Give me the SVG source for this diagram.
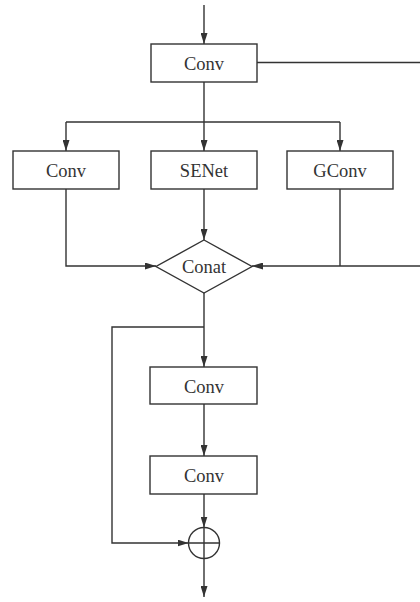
<svg xmlns="http://www.w3.org/2000/svg" width="420" height="602" viewBox="0 0 420 602">
<defs>
<marker id="ah" viewBox="0 0 11 7" refX="11" refY="3.5" markerWidth="11" markerHeight="7" markerUnits="userSpaceOnUse" orient="auto">
<path d="M0,0 L11,3.5 L0,7 Z" fill="#333"/>
</marker>
<style>
.box{fill:#fff;stroke:#333;stroke-width:1.4}
.ln{fill:none;stroke:#333;stroke-width:1.4}
.arr{fill:none;stroke:#333;stroke-width:1.4;marker-end:url(#ah)}
.t{font-family:"Liberation Serif","Times New Roman",serif;font-size:18.5px;fill:#333;text-anchor:middle}
</style>
</defs>
<rect width="420" height="602" fill="#fff"/>
<g id="connectors">
<path class="arr" d="M204,5 V44"/>
<path class="ln" d="M257,62.5 H420"/>
<path class="ln" d="M204,82 V122"/>
<path class="ln" d="M66,122 H340"/>
<path class="arr" d="M66,122 V151"/>
<path class="arr" d="M204,122 V151"/>
<path class="arr" d="M340,122 V151"/>
<path class="arr" d="M66,189 V266 H156"/>
<path class="arr" d="M204,189 V240"/>
<path class="ln" d="M340,189 V266"/>
<path class="arr" d="M420,266 H252"/>
<path class="ln" d="M204,293 V327"/>
<path class="arr" d="M204,327 V367"/>
<path class="arr" d="M204,327 H112 V543 H188.5"/>
<path class="arr" d="M204,404 V456"/>
<path class="arr" d="M204,494 V527.5"/>
<path class="arr" d="M204,558.5 V597"/>
</g>
<g id="conv_top"><rect class="box" x="151" y="44" width="106" height="38"/><text class="t" x="204" y="70">Conv</text></g>
<g id="conv_left"><rect class="box" x="13" y="151" width="106" height="38"/><text class="t" x="66" y="177">Conv</text></g>
<g id="senet"><rect class="box" x="151" y="151" width="106" height="38"/><text class="t" x="204" y="177">SENet</text></g>
<g id="gconv"><rect class="box" x="287" y="151" width="106" height="38"/><text class="t" x="340" y="177">GConv</text></g>
<g id="conat"><path class="box" d="M204,240 L252,266.5 L204,293 L156,266.5 Z"/><text class="t" x="204" y="272.5">Conat</text></g>
<g id="conv_1"><rect class="box" x="150" y="367" width="107" height="37"/><text class="t" x="204" y="392.5">Conv</text></g>
<g id="conv_2"><rect class="box" x="150" y="456" width="107" height="38"/><text class="t" x="204" y="481.5">Conv</text></g>
<g id="add"><circle class="box" cx="204" cy="543" r="15.5"/><path class="ln" d="M188.5,543 H219.5 M204,527.5 V558.5"/></g>
</svg>
